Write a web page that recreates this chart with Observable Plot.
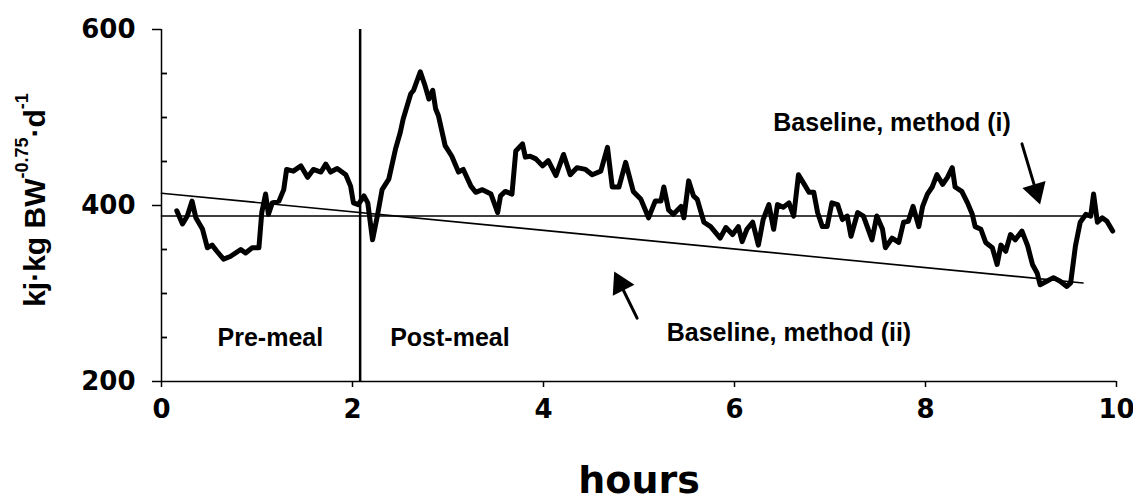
<!DOCTYPE html>
<html>
<head>
<meta charset="utf-8">
<script src="https://cdn.jsdelivr.net/npm/d3@7"></script>
<script src="https://cdn.jsdelivr.net/npm/@observablehq/plot@0.6"></script>
<style>
  body { margin: 0; background: #fff; }
  #chart svg { display: block; }
</style>
</head>
<body>
<div id="chart"></div>
<script>
// Heat production trace over a 10-hour session (kJ per kg metabolic body weight per day)
const hours = [
  0.16, 0.22, 0.27, 0.32, 0.36, 0.43, 0.48, 0.53, 0.58, 0.65, 0.72, 0.83, 0.88, 0.95, 1.02,
  1.05, 1.09, 1.12, 1.16, 1.23, 1.28, 1.31, 1.38, 1.46, 1.53, 1.59, 1.67, 1.72, 1.77, 1.84,
  1.93, 1.98, 2.01, 2.06, 2.12, 2.16, 2.21, 2.26, 2.31, 2.38, 2.45, 2.50, 2.53, 2.61, 2.64,
  2.71, 2.76, 2.80, 2.84, 2.87, 2.90, 2.97, 3.04, 3.11, 3.16, 3.24, 3.29, 3.36, 3.45, 3.52,
  3.55, 3.60, 3.67, 3.71, 3.78, 3.81, 3.86, 3.92, 3.99, 4.05, 4.13, 4.21, 4.28, 4.35, 4.44,
  4.51, 4.60, 4.67, 4.72, 4.79, 4.86, 4.94, 5.02, 5.10, 5.17, 5.23, 5.26, 5.31, 5.36, 5.44,
  5.47, 5.52, 5.57, 5.61, 5.68, 5.75, 5.85, 5.91, 5.98, 6.04, 6.08, 6.13, 6.19, 6.25, 6.30,
  6.36, 6.41, 6.45, 6.51, 6.57, 6.62, 6.67, 6.72, 6.78, 6.83, 6.87, 6.92, 6.97, 7.02, 7.08,
  7.13, 7.18, 7.22, 7.29, 7.35, 7.39, 7.44, 7.49, 7.55, 7.58, 7.65, 7.72, 7.77, 7.82, 7.87,
  7.93, 7.97, 8.02, 8.07, 8.12, 8.18, 8.23, 8.28, 8.31, 8.38, 8.44, 8.49, 8.52, 8.58, 8.63,
  8.70, 8.75, 8.79, 8.84, 8.89, 8.94, 9.01, 9.07, 9.12, 9.17, 9.20, 9.27, 9.34, 9.41, 9.48,
  9.52, 9.57, 9.62, 9.68, 9.73, 9.76, 9.80, 9.85, 9.90, 9.96
];
const energy = [
  394, 379, 388, 405, 386, 373, 352, 355, 348, 339, 342, 350, 346, 352, 352,
  392, 413, 390, 403, 405, 418, 441, 439, 445, 432, 441, 438, 447, 438, 442,
  435, 422, 403, 401, 411, 403, 361, 388, 418, 430, 464, 483, 498, 527, 531,
  552, 536, 521, 531, 510, 502, 468, 456, 438, 441, 422, 415, 418, 413, 392,
  411, 416, 413, 462, 470, 455, 456, 453, 445, 451, 434, 458, 435, 443, 441,
  435, 439, 466, 421, 421, 449, 416, 407, 386, 405, 405, 421, 395, 390, 399,
  386, 428, 411, 407, 381, 376, 363, 375, 367, 376, 359, 373, 381, 355, 384,
  401, 373, 401, 398, 403, 388, 435, 426, 415, 415, 392, 376, 376, 403, 401,
  384, 388, 365, 392, 388, 376, 361, 388, 373, 352, 363, 358, 381, 382, 399,
  376, 399, 413, 421, 435, 424, 432, 443, 421, 416, 403, 390, 376, 373, 358,
  352, 333, 355, 348, 367, 361, 371, 354, 333, 323, 310, 314, 318, 314, 308,
  312, 354, 381, 390, 388, 413, 381, 386, 382, 371
];

// Meal time and the two baseline estimates
const mealTime = 2.08;
const baselineIHours = [0, 9.7];
const baselineIEnergy = [388, 388];
const baselineIIHours = [0, 9.65];
const baselineIIEnergy = [414, 312];

// Axis ticks
const xTicks = [0, 2, 4, 6, 8, 10];
const yTicks = [200, 400, 600];
const yMinorTicks = [250, 300, 350, 450, 500, 550];

// Annotations
const noteText = ["Pre-meal", "Post-meal", "Baseline, method (i)", "Baseline, method (ii)"];
const noteHours = [1.14, 3.02, 7.65, 6.57];
const noteEnergy = [249, 249, 494, 255];

// Pointer arrows: (i) points at the flat baseline, (ii) at the sloping one
const arrowTailHours = [9.01, 4.98];
const arrowTailEnergy = [470, 272];
const arrowTipHours = [9.20, 4.74];
const arrowTipEnergy = [401, 325];

const axisFont = {fontFamily: "DejaVu Sans", fontWeight: "bold", fontSize: 26};
const noteFont = {fontFamily: "Liberation Sans, Arial, sans-serif", fontWeight: "bold", fontSize: 25};

const arrowIdx = [0, 1];

const W = 1133, ML = 161, MR = 17;
const minorTickLength = 6;

const chart = Plot.plot({
  width: W,
  height: 504,
  marginLeft: ML,
  marginRight: MR,
  marginTop: 29,
  marginBottom: 123,
  x: {domain: [0, 10]},
  y: {domain: [200, 600]},
  style: {background: "white", color: "black", overflow: "visible"},
  marks: [
    // axis lines
    Plot.ruleX([0], {strokeWidth: 1.5}),
    Plot.ruleY([200], {strokeWidth: 1.5}),
    // minor y ticks, drawn on the inside of the axis
    Plot.tickY(yMinorTicks, {y: d => d, insetRight: W - ML - MR - minorTickLength,
      stroke: "black", strokeWidth: 1.8}),
    Plot.axisY({ticks: yTicks, tickSize: 9, tickPadding: 17, label: null, strokeWidth: 1.5, ...axisFont}),
    Plot.axisX({ticks: xTicks, tickSize: 6, tickPadding: 12, label: null, strokeWidth: 1.5, ...axisFont}),
    // meal marker
    Plot.ruleX([mealTime], {strokeWidth: 2.5}),
    // baselines
    Plot.line(baselineIHours, {x: baselineIHours, y: baselineIEnergy, strokeWidth: 1.6}),
    Plot.line(baselineIIHours, {x: baselineIIHours, y: baselineIIEnergy, strokeWidth: 1.6}),
    // measured trace
    Plot.line(energy, {x: hours, y: energy, stroke: "black", strokeWidth: 5,
      strokeLinejoin: "round", strokeLinecap: "round"}),
    // annotation labels
    Plot.text(noteText, {x: noteHours, y: noteEnergy, text: d => d, ...noteFont}),
    // arrow shafts
    Plot.arrow(arrowIdx, {
      x1: i => arrowTailHours[i], y1: i => arrowTailEnergy[i],
      x2: i => arrowTipHours[i], y2: i => arrowTipEnergy[i],
      headLength: 0, insetEnd: 12, strokeWidth: 3
    }),
    // arrow heads
    Plot.dot([0], {x: i => arrowTipHours[i], y: i => arrowTipEnergy[i], symbol: "triangle",
      r: 9, rotate: 163, dx: -4.1, dy: -13.4, fill: "black", stroke: "none"}),
    Plot.dot([1], {x: i => arrowTipHours[i], y: i => arrowTipEnergy[i], symbol: "triangle",
      r: 9, rotate: -26.6, dx: 6.3, dy: 12.5, fill: "black", stroke: "none"}),
    // x-axis title
    Plot.text(["hours"], {frameAnchor: "bottom", dy: 111, text: d => d,
      fontFamily: "DejaVu Sans", fontWeight: "bold", fontSize: 38})
  ]
});

document.getElementById("chart").append(chart);

// y-axis title with superscripts
const title = d3.select(chart).append("text")
  .attr("transform", "translate(45,200) rotate(-90)")
  .attr("text-anchor", "middle")
  .attr("font-family", "Liberation Sans, Arial, sans-serif")
  .attr("font-weight", "bold")
  .attr("font-size", 30)
  .attr("fill", "black");
title.append("tspan").text("kj·kg BW");
title.append("tspan").attr("font-size", 18).attr("dy", -17).text("-0.75");
title.append("tspan").attr("dy", 17).text("·d");
title.append("tspan").attr("font-size", 18).attr("dy", -17).text("-1");
</script>
</body>
</html>
